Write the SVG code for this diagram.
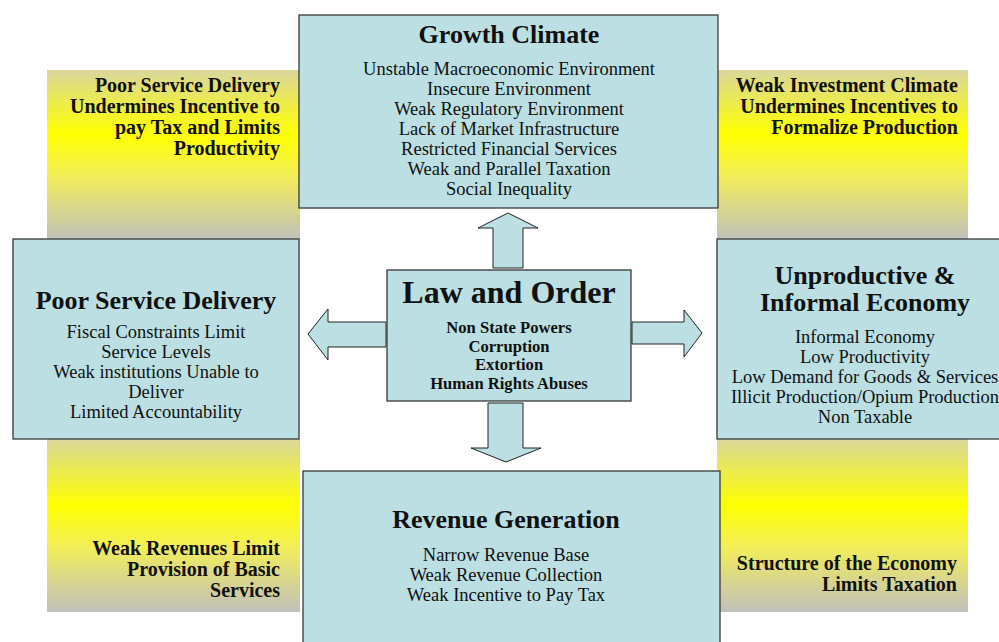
<svg xmlns="http://www.w3.org/2000/svg" width="999" height="642" viewBox="0 0 999 642">
<defs>
<linearGradient id="yg" x1="0" y1="0" x2="0" y2="1">
<stop offset="0" stop-color="#d9d79c"/>
<stop offset="0.38" stop-color="#ffff00"/>
<stop offset="0.62" stop-color="#f2ee58"/>
<stop offset="1" stop-color="#c0c0bc"/>
</linearGradient>
</defs>
<style>
text{font-family:"Liberation Serif","Times New Roman",serif;fill:#111}
.box{fill:#bbdfe3;stroke:#3a3a3a;stroke-width:1.3}
.arr{fill:#bbdfe3;stroke:#222;stroke-width:1}
.pan{fill:url(#yg)}
.ttl{font-weight:bold;font-size:26px;text-anchor:middle}
.bd{font-size:18.5px;text-anchor:middle}
.yt{font-weight:bold;font-size:20px;text-anchor:end}
.lb{font-weight:bold;font-size:16.6px;text-anchor:middle}
</style>
<rect width="999" height="642" fill="#fff"/>
<g id="panel-top-left">
<rect class="pan" x="47" y="70" width="253" height="170"/>
<text class="yt" x="280" y="92">Poor Service Delivery</text>
<text class="yt" x="280" y="113">Undermines Incentive to</text>
<text class="yt" x="280" y="134">pay Tax and Limits</text>
<text class="yt" x="280" y="155">Productivity</text>
</g>
<g id="panel-top-right">
<rect class="pan" x="717" y="70" width="251" height="170"/>
<text class="yt" x="958" y="92">Weak Investment Climate</text>
<text class="yt" x="958" y="113">Undermines Incentives to</text>
<text class="yt" x="958" y="134">Formalize Production</text>
</g>
<g id="panel-bottom-left">
<rect class="pan" x="47" y="439" width="253" height="173"/>
<text class="yt" x="280" y="555">Weak Revenues Limit</text>
<text class="yt" x="280" y="576">Provision of Basic</text>
<text class="yt" x="280" y="597">Services</text>
</g>
<g id="panel-bottom-right">
<rect class="pan" x="717" y="439" width="251" height="173"/>
<text class="yt" x="957" y="570">Structure of the Economy</text>
<text class="yt" x="957" y="591">Limits Taxation</text>
</g>
<g id="growth-climate">
<rect class="box" x="299" y="15" width="419" height="193"/>
<text class="ttl" x="509" y="43">Growth Climate</text>
<text class="bd" x="509" y="75">Unstable Macroeconomic Environment</text>
<text class="bd" x="509" y="95">Insecure Environment</text>
<text class="bd" x="509" y="115">Weak Regulatory Environment</text>
<text class="bd" x="509" y="135">Lack of Market Infrastructure</text>
<text class="bd" x="509" y="155">Restricted Financial Services</text>
<text class="bd" x="509" y="175">Weak and Parallel Taxation</text>
<text class="bd" x="509" y="195">Social Inequality</text>
</g>
<g id="poor-service-delivery">
<rect class="box" x="13" y="239" width="286" height="200"/>
<text class="ttl" x="156" y="309">Poor Service Delivery</text>
<text class="bd" x="156" y="338">Fiscal Constraints Limit</text>
<text class="bd" x="156" y="358">Service Levels</text>
<text class="bd" x="156" y="378">Weak institutions Unable to</text>
<text class="bd" x="156" y="398">Deliver</text>
<text class="bd" x="156" y="418">Limited Accountability</text>
</g>
<g id="unproductive-economy">
<rect class="box" x="717" y="239" width="300" height="200"/>
<text class="ttl" x="865" y="284">Unproductive &amp;</text>
<text class="ttl" x="865" y="311">Informal Economy</text>
<text class="bd" x="865" y="343">Informal Economy</text>
<text class="bd" x="865" y="363">Low Productivity</text>
<text class="bd" x="865" y="383">Low Demand for Goods &amp; Services</text>
<text class="bd" x="865" y="403">Illicit Production/Opium Production</text>
<text class="bd" x="865" y="423">Non Taxable</text>
</g>
<g id="revenue-generation">
<rect class="box" x="303" y="471" width="417" height="190"/>
<text class="ttl" x="506" y="528">Revenue Generation</text>
<text class="bd" x="506" y="561">Narrow Revenue Base</text>
<text class="bd" x="506" y="581">Weak Revenue Collection</text>
<text class="bd" x="506" y="601">Weak Incentive to Pay Tax</text>
</g>
<g id="connectors">
<polygon class="arr" points="493,268 493,228 478,228 508,213 538,228 523,228 523,268"/>
<polygon class="arr" points="488,403 523,403 523,448 541,448 506,462 471,448 488,448"/>
<polygon class="arr" points="386,322 328,322 328,309 308,334 328,360 328,347 386,347"/>
<polygon class="arr" points="632,322 684,322 684,310 702,333 684,357 684,344 632,344"/>
</g>
<g id="law-and-order">
<rect class="box" x="387" y="270" width="244" height="131"/>
<text x="509" y="303" style="font-weight:bold;font-size:32px;text-anchor:middle">Law and Order</text>
<text class="lb" x="509" y="333">Non State Powers</text>
<text class="lb" x="509" y="351.5">Corruption</text>
<text class="lb" x="509" y="370">Extortion</text>
<text class="lb" x="509" y="388.5">Human Rights Abuses</text>
</g>
</svg>
